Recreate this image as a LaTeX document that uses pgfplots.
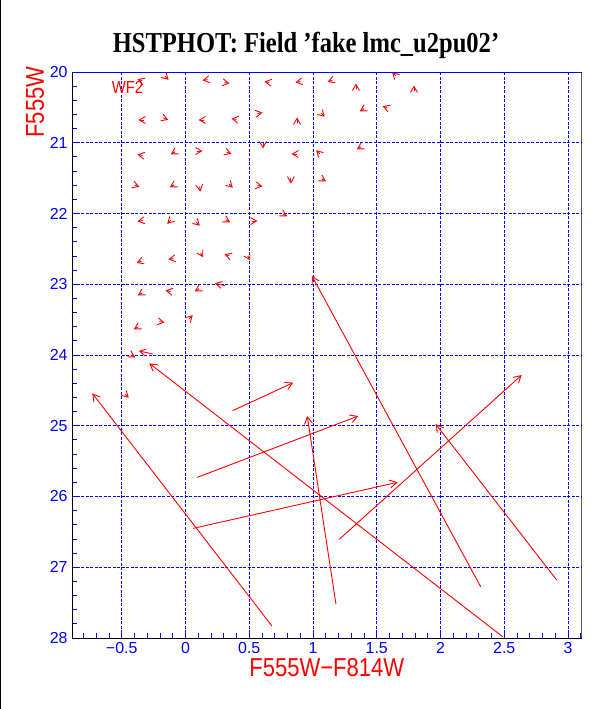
\documentclass[border=0pt]{standalone}
\usepackage{pgfplots}
\pgfplotsset{compat=1.18}
\usepackage{fontspec}
\usetikzlibrary{arrows.meta}
\setmainfont{Liberation Sans}
\newfontfamily\titlefont[FakeStretch=0.85]{Liberation Serif}
\newfontfamily\labfont[FakeStretch=0.85]{Liberation Sans}

% small input/output offsets (fake stars), x y u v
\pgfplotstableread{
x y u v
-0.339 20.125 -0.037 -0.024
-0.161 20.060 0.028 0.050
0.173 20.107 -0.039 0.012
0.306 20.149 0.039 0.012
0.659 20.147 -0.039 -0.012
0.902 20.135 -0.039 0.012
1.152 20.115 -0.037 0.024
1.337 20.234 0 -0.071
1.649 20.053 -0.028 -0.050
1.792 20.262 0 -0.071
-0.329 20.678 -0.039 0
-0.172 20.652 0.037 0.024
0.142 20.678 -0.039 0
0.400 20.670 -0.039 -0.012
0.565 20.586 0.039 -0.012
0.875 20.714 0 -0.071
1.064 20.583 0.028 0.050
1.401 20.520 -0.034 0.035
1.583 20.507 -0.037 -0.024
-0.337 21.179 -0.039 -0.012
-0.081 21.128 -0.034 0.035
0.094 21.117 0.039 0
0.323 21.133 0.037 0.024
0.608 21.010 0 0.071
0.871 21.159 -0.039 0
1.053 21.156 -0.028 -0.050
1.378 21.057 -0.034 0.035
-0.399 21.599 0.037 0.024
-0.089 21.594 -0.034 0.035
0.110 21.619 0.007 0.070
0.343 21.586 0.028 0.050
0.565 21.605 0.039 0.012
0.827 21.505 0 0.071
1.069 21.510 0.034 0.035
-0.337 22.100 -0.039 0.012
-0.115 22.095 -0.028 0.050
0.084 22.123 0.028 0.050
0.316 22.089 0.034 0.035
0.525 22.106 0.039 0
0.763 22.004 0.034 0.035
-0.346 22.674 -0.037 0.024
-0.094 22.637 -0.039 0.012
0.119 22.557 0.020 0.061
0.344 22.599 -0.037 -0.024
0.488 22.599 0.020 0.061
-0.340 23.121 -0.034 0.035
-0.117 23.101 -0.039 -0.012
0.107 23.064 -0.034 0.035
0.310 23.020 -0.079 -0.033
-0.371 23.601 -0.034 0.035
-0.204 23.528 0.039 0.012
0.029 23.488 0.028 -0.050
-0.429 23.997 0.034 0.035
-0.255 23.986 -0.110 -0.043
-0.473 24.555 0.028 0.050
}\smallarrows

% large offsets
\pgfplotstableread{
x y u v
0.678 27.830 -1.409 -3.289
0.370 24.787 0.475 -0.396
0.093 25.729 1.262 -0.867
0.061 26.450 1.603 -0.651
1.206 26.605 1.431 -2.322
1.180 27.519 -0.225 -2.657
2.315 27.275 -1.323 -4.392
2.911 27.180 -0.949 -2.205
2.488 27.982 -2.772 -3.865
}\bigarrows

\begin{document}
\begin{tikzpicture}
\begin{axis}[
  scale only axis,
  width=509.5bp, height=566bp,
  xmin=-0.89, xmax=3.106,
  ymin=20, ymax=28,
  y dir=reverse,
  xtick={-0.5,0,0.5,1,1.5,2,2.5,3},
  xticklabels={−0.5,0,0.5,1,1.5,2,2.5,3},
  ytick={20,21,22,23,24,25,26,27,28},
  yticklabels={20,21,22,23,24,25,26,27,28},
  minor xtick={-0.8,-0.7,-0.6,-0.4,-0.3,-0.2,-0.1,0.1,0.2,0.3,0.4,0.6,0.7,0.8,0.9,1.1,1.2,1.3,1.4,1.6,1.7,1.8,1.9,2.1,2.2,2.3,2.4,2.6,2.7,2.8,2.9,3.1},
  minor ytick={20.2,20.4,20.6,20.8,21.2,21.4,21.6,21.8,22.2,22.4,22.6,22.8,23.2,23.4,23.6,23.8,24.2,24.4,24.6,24.8,25.2,25.4,25.6,25.8,26.2,26.4,26.6,26.8,27.2,27.4,27.6,27.8},
  tick align=inside,
  xtick pos=lower, ytick pos=left,
  major tick length=5bp, minor tick length=5bp,
  every tick/.style={blue, line width=0.9bp},
  grid=major,
  major grid style={blue, line width=0.9bp, dash pattern=on 3bp off 1.5bp},
  axis line style={draw=none},
  tick label style={blue, font=\fontsize{16}{16}\selectfont},
  xticklabel style={yshift=-1bp},
  yticklabel style={xshift=-1bp},
]
\addplot[red, line width=0.9bp, -{Straight Barb[length=6bp,width=7bp]},
  quiver={u=\thisrow{u}, v=\thisrow{v}}] table[x=x, y=y] {\smallarrows};
\addplot[red, line width=0.9bp, -{Straight Barb[length=7bp,width=8bp]},
  quiver={u=\thisrow{u}, v=\thisrow{v}}] table[x=x, y=y] {\bigarrows};
\node[red, font=\labfont\fontsize{17.5}{17.5}\selectfont] at (axis cs:-0.455,20.22) {WF2};
\draw[black, line width=1bp] (axis description cs:0,1) -- (axis description cs:0,0) -- (axis description cs:1,0) -- (axis description cs:1,1);
\draw[blue, line width=1bp] (axis description cs:0,1) -- (axis description cs:1,1);
\end{axis}
\node[font=\titlefont\bfseries\fontsize{29}{29}\selectfont] at ([xshift=234bp,yshift=27bp]current axis.north west) {HSTPHOT: Field ’fake lmc\_u2pu02’};
\node[red, rotate=90, font=\labfont\fontsize{26}{26}\selectfont] at ([xshift=-37bp,yshift=-30bp]current axis.north west) {F555W};
\node[red, font=\labfont\fontsize{26}{26}\selectfont] at ([yshift=-30bp]current axis.south) {F555W−F814W};
\draw[black, line width=1.5bp] ([xshift=-71.25bp,yshift=-71bp]current axis.south west) -- ++(0,709bp);
\pgfresetboundingbox
\path ([xshift=-72bp,yshift=-71bp]current axis.south west) rectangle ++(612bp,709bp);
\end{tikzpicture}
\end{document}
